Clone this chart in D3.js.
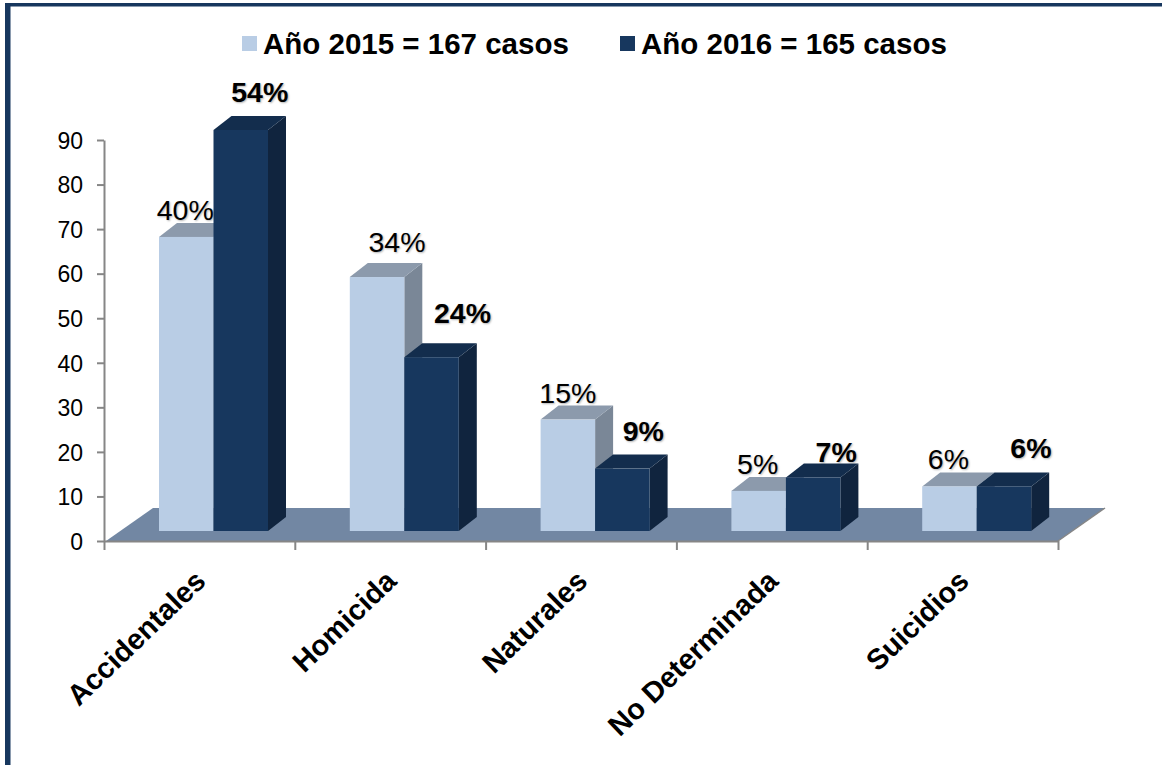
<!DOCTYPE html>
<html lang="es">
<meta charset="UTF-8">
<style>
    body{ margin:0; background:#fff; }
    text{ font-family:"Liberation Sans",Arial,sans-serif; fill:#000; }
    .axis path, .axis line{ stroke:#868686; stroke-width:2; }
    .axis text{ font-size:23px; }
    .cat{ font-size:29px; font-weight:bold; }
    .legend{ font-size:29.5px; font-weight:bold; }
    .pct{ font-size:28.5px; text-shadow:1px 1px 2px rgba(0,0,0,.3); }
    .pct.b{ font-weight:bold; }
</style>
<body>
<div id="chart"></div>
<script src="https://cdn.jsdelivr.net/npm/d3@7"></script>
<script>
    var categories = ["Accidentales","Homicida","Naturales","No Determinada","Suicidios"];
    var seriesNames = ["Año 2015 = 167 casos","Año 2016 = 165 casos"];
    var values2015 = [66,57,25,9,10];
    var values2016 = [90,39,14,12,10];
    var pct2015 = ["40%","34%","15%","5%","6%"];
    var pct2016 = ["54%","24%","9%","7%","6%"];

    // label shifts from the top-centre of each bar
    var nudge2015 = [[-19,-3],[2,-11],[-18,-3],[-19,-3],[-19,-3]];
    var nudge2016 = [[1,-14],[13,-20],[3,-14],[5,-2],[9,-14]];

    var width = 1162, height = 765;
    var depth = {x:18, y:-14};
    var floorDepth = {x:47, y:-33};
    var liftY = 10;

    var colors = [
        {front:"#b9cde5", top:"#8c9aac", side:"#7a8797"},
        {front:"#17375e", top:"#132d4d", side:"#10243e"}
    ];

    var svg = d3.select("#chart").append("svg")
        .attr("width", width)
        .attr("height", height)
        .style("display","block");

    // frame, left and top only
    svg.append("rect").attr("x",5).attr("y",3).attr("width",width-5).attr("height",3.5).attr("fill","#17375e");
    svg.append("rect").attr("x",5).attr("y",3).attr("width",5.5).attr("height",height-3).attr("fill","#17375e");

    var x = d3.scaleBand().domain(categories).range([104,1058]);
    var xInner = d3.scaleBand().domain([0,1]).range([55,164]);
    var xEdge = d3.scaleLinear().domain([0,5]).range([104,1058]);
    var y = d3.scaleLinear().domain([0,90]).range([541,140]);

    // floor
    var fx0 = xEdge(0)+2, fx1 = xEdge(5), fy = y(0);
    svg.append("polygon")
        .attr("points",[[fx0,fy],[fx1,fy],[fx1+floorDepth.x,fy+floorDepth.y],[fx0+floorDepth.x,fy+floorDepth.y]].join(" "))
        .attr("fill","#7287a3");
    svg.append("line")
        .attr("x1",fx1).attr("y1",fy).attr("x2",fx1+floorDepth.x).attr("y2",fy+floorDepth.y)
        .attr("stroke","#868686").attr("stroke-width",1.5);

    // axes
    svg.append("g").attr("class","axis")
        .attr("transform","translate(104,0)")
        .call(d3.axisLeft(y).tickValues(d3.range(0,100,10)).tickSize(7).tickSizeOuter(0).tickPadding(14))
        .selectAll("text").attr("dy","0.36em");
    svg.append("g").attr("class","axis")
        .attr("transform","translate(0,"+y(0)+")")
        .call(d3.axisBottom(xEdge).tickValues(d3.range(0,6)).tickSize(9).tickSizeOuter(0).tickFormat(""));

    // bars, drawn left to right so the dark bar hides the light bar's side
    var rows = categories.map(function(c,i){
        return [
            {cat:c, s:0, v:values2015[i], label:pct2015[i], n:nudge2015[i]},
            {cat:c, s:1, v:values2016[i], label:pct2016[i], n:nudge2016[i]}
        ];
    });
    var bars = svg.selectAll("g.bar").data(d3.merge(rows)).enter().append("g").attr("class","bar");

    function x0(d){ return x(d.cat)+xInner(d.s); }
    function x1(d){ return x0(d)+xInner.bandwidth(); }
    function yTop(d){ return y(d.v)-liftY; }
    function yBot(){ return y(0)-liftY; }

    bars.append("polygon")
        .attr("fill",function(d){ return colors[d.s].side; })
        .attr("points",function(d){
            return [[x1(d),yTop(d)],[x1(d)+depth.x,yTop(d)+depth.y],[x1(d)+depth.x,yBot()+depth.y],[x1(d),yBot()]].join(" ");
        });
    bars.append("polygon")
        .attr("fill",function(d){ return colors[d.s].top; })
        .attr("points",function(d){
            return [[x0(d),yTop(d)],[x0(d)+depth.x,yTop(d)+depth.y],[x1(d)+depth.x,yTop(d)+depth.y],[x1(d),yTop(d)]].join(" ");
        });
    bars.append("rect")
        .attr("fill",function(d){ return colors[d.s].front; })
        .attr("x",x0)
        .attr("y",yTop)
        .attr("width",xInner.bandwidth())
        .attr("height",function(d){ return yBot()-yTop(d); });

    // value labels on top of everything
    svg.selectAll("text.pct").data(d3.merge(rows)).enter().append("text")
        .attr("class",function(d){ return d.s ? "pct b" : "pct"; })
        .attr("text-anchor","middle")
        .attr("x",function(d){ return (x0(d)+x1(d))/2+depth.x+d.n[0]; })
        .attr("y",function(d){ return yTop(d)+depth.y+d.n[1]; })
        .text(function(d){ return d.label; });

    // category labels
    svg.selectAll("text.cat").data(categories).enter().append("text")
        .attr("class","cat")
        .attr("text-anchor","end")
        .attr("transform",function(d){
            return "translate("+(x(d)+x.bandwidth()/2+8)+",583) rotate(-44)";
        })
        .text(function(d){ return d; });

    // legend
    var legendX = [242,620];
    var legend = svg.selectAll("g.leg").data(seriesNames).enter().append("g")
        .attr("class","leg")
        .attr("transform",function(d,i){ return "translate("+legendX[i]+",36)"; });
    legend.append("rect").attr("width",15).attr("height",15)
        .attr("fill",function(d,i){ return colors[i].front; });
    legend.append("text").attr("class","legend").attr("x",21).attr("y",18)
        .text(function(d){ return d; });
</script>
</body>
</html>
